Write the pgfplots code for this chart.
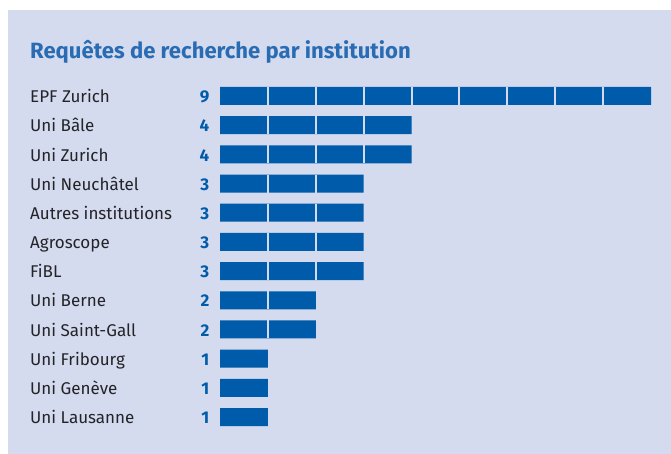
\documentclass[border=0pt]{standalone}
\usepackage{pgfplots}
\pgfplotsset{compat=1.18}
\usepackage{pgfplotstable}
\usepackage{fontspec}
\setmainfont{Fira Sans}
\definecolor{panel}{RGB}{212,219,238}
\definecolor{barblue}{RGB}{0,91,170}
\definecolor{titleblue}{RGB}{42,108,180}
\definecolor{txt}{RGB}{35,35,40}
\pgfplotstableread{
y v name
1 9 {EPF Zurich}
2 4 {Uni Bâle}
3 4 {Uni Zurich}
4 3 {Uni Neuchâtel}
5 3 {Autres institutions}
6 3 {Agroscope}
7 3 {FiBL}
8 2 {Uni Berne}
9 2 {Uni Saint-Gall}
10 1 {Uni Fribourg}
11 1 {Uni Genève}
12 1 {Uni Lausanne}
}\datatable
\begin{document}
\begin{tikzpicture}[x=1pt,y=1pt]
\useasboundingbox (0,0) rectangle (671,-454);
\fill[white] (0,0) rectangle (671,-454);
\fill[panel] (8,-10) rectangle (671,-454);
\node[anchor=base west, inner sep=0pt, font=\fontsize{22.1}{26}\selectfont\bfseries, text=titleblue] at (30,-58.3) {Requêtes de recherche par institution};
\begin{axis}[
  at={(220pt,-81.4pt)}, anchor=north west,
  scale only axis, width=431pt, height=350.2pt,
  xmin=0, xmax=9, ymin=0.5, ymax=12.5, y dir=reverse,
  axis line style={draw=none}, major tick length=0pt,
  xtick=\empty, ytick={1,...,12},
  yticklabels from table={\datatable}{name},
  yticklabel style={anchor=base west, inner sep=0pt, xshift=-190pt, yshift=-6.7pt, font=\fontsize{17}{19}\selectfont, text=txt},
  clip=false,
]
\addplot[xbar, bar width=18pt, fill=barblue, draw=none] table[x=v, y=y] {\datatable};
\addplot[only marks, mark=|, mark size=9pt, mark options={draw=panel, line width=2pt}] coordinates {
(1,1)(2,1)(3,1)(4,1)(5,1)(6,1)(7,1)(8,1)
(1,2)(2,2)(3,2)
(1,3)(2,3)(3,3)
(1,4)(2,4)
(1,5)(2,5)
(1,6)(2,6)
(1,7)(2,7)
(1,8)
(1,9)
};
\addplot[draw=none, mark=none, nodes near coords, point meta=explicit symbolic,
  nodes near coords style={anchor=base east, inner sep=0pt, xshift=-10.5pt, yshift=-6.7pt, font=\fontsize{17}{19}\selectfont\bfseries, text=barblue}]
  table[x expr=0, y=y, meta=v] {\datatable};
\end{axis}
\end{tikzpicture}
\end{document}
